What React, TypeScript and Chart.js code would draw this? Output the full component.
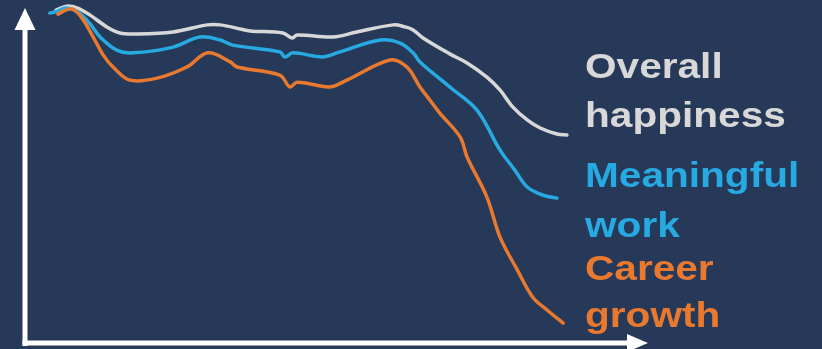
import React, { useEffect, useRef } from "react";
import { Chart, registerables } from "chart.js";

Chart.register(...registerables);

// Time (0-100) and index values (0-100) per series
const overallT = [5.0, 6.9, 8.5, 10.5, 13.2, 15.3, 17.7, 23.9, 29.4, 31.5, 34.7, 36.3, 41.6, 43.1, 43.9, 49.7, 53.5, 59.4, 61.3, 62.6, 64.2, 68.5, 71.3, 74.5, 76.6, 78.7, 81.0, 83.1, 85.8, 87.4];
const overallV = [98.8, 100, 99.4, 97.3, 93.8, 92.0, 91.7, 92.3, 94.4, 94.4, 93.2, 92.6, 92.0, 90.5, 91.4, 90.8, 92.3, 94.4, 93.8, 92.9, 90.5, 85.8, 83.1, 78.9, 75.1, 70.0, 66.2, 63.8, 62.0, 61.7];

const meaningfulT = [4.0, 5.3, 6.6, 8.5, 10.5, 12.1, 14.8, 17.4, 23.9, 28.2, 31.5, 33.5, 41.1, 41.9, 43.2, 48.1, 50.8, 57.3, 60.5, 62.6, 63.7, 68.5, 72.9, 76.6, 79.0, 81.0, 83.5, 85.8];
const meaningfulV = [97.9, 98.5, 99.4, 98.2, 94.7, 90.8, 86.9, 86.1, 87.8, 90.8, 89.9, 88.4, 86.4, 84.9, 86.1, 84.9, 86.4, 89.9, 89.0, 86.1, 83.4, 76.0, 69.1, 57.3, 51.3, 46.3, 43.9, 43.0];

const careerT = [5.3, 6.6, 7.7, 9.2, 11.0, 12.6, 14.2, 16.9, 21.3, 26.1, 29.5, 33.1, 34.2, 41.1, 42.7, 43.9, 49.2, 51.9, 58.9, 61.6, 63.7, 65.3, 66.9, 70.2, 71.3, 74.5, 76.6, 79.4, 81.9, 84.2, 86.8];
const careerV = [97.6, 98.8, 99.1, 96.4, 90.8, 85.5, 81.9, 78.0, 78.6, 81.9, 86.1, 83.4, 81.9, 79.5, 76.0, 77.4, 76.0, 78.0, 84.0, 81.9, 76.0, 72.1, 68.2, 61.1, 55.2, 43.3, 31.5, 21.7, 13.6, 9.8, 5.9];

const seriesNames = ["Overall happiness", "Meaningful work", "Career growth"];
const labelLines = [["Overall", "happiness"], ["Meaningful", "work"], ["Career", "growth"]];
const labelBaselines = [78, 127, 187, 237, 280, 327];

const BG = "#273958";
const GRAY = "#d8d8d8";
const BLUE = "#27a9e1";
const ORANGE = "#e8792f";

const toPoints = (t: number[], v: number[]) => t.map((x, i) => ({ x, y: v[i] }));

const decorPlugin = {
  id: "decor",
  beforeDraw(chart: any) {
    const ctx = chart.ctx;
    ctx.save();
    ctx.fillStyle = BG;
    ctx.fillRect(0, 0, chart.width, chart.height);
    ctx.restore();
  },
  afterDraw(chart: any) {
    const ctx = chart.ctx;
    const { left, bottom } = chart.chartArea;
    ctx.save();
    ctx.fillStyle = "#ffffff";
    // y axis shaft
    ctx.fillRect(left - 2.5, 28, 5, bottom - 28 + 3);
    // y arrow head
    ctx.beginPath();
    ctx.moveTo(left, 8);
    ctx.lineTo(left + 10.5, 30);
    ctx.lineTo(left - 10.5, 30);
    ctx.closePath();
    ctx.fill();
    // x axis shaft
    ctx.fillRect(left - 2.5, bottom - 2.5, 605, 5);
    // x arrow head
    ctx.beginPath();
    ctx.moveTo(648, bottom);
    ctx.lineTo(627, bottom - 9);
    ctx.lineTo(627, bottom + 9);
    ctx.closePath();
    ctx.fill();

    // series labels
    const colors = [GRAY, BLUE, ORANGE];
    ctx.font = "bold 35px 'Liberation Sans', Arial, sans-serif";
    ctx.textBaseline = "alphabetic";
    ctx.textAlign = "left";
    let k = 0;
    labelLines.forEach((lines, si) => {
      ctx.fillStyle = colors[si];
      lines.forEach((line) => {
        ctx.save();
        ctx.translate(585, labelBaselines[k]);
        ctx.scale(1.16, 1);
        ctx.fillText(line, 0, 0);
        ctx.restore();
        k++;
      });
    });
    ctx.restore();
  },
};

export default function App() {
  const ref = useRef<HTMLCanvasElement>(null);
  useEffect(() => {
    document.body.style.margin = "0";
    document.body.style.background = BG;
    const chart = new Chart(ref.current!, {
      type: "line",
      data: {
        datasets: [
          { label: seriesNames[2], data: toPoints(careerT, careerV), borderColor: ORANGE },
          { label: seriesNames[1], data: toPoints(meaningfulT, meaningfulV), borderColor: BLUE },
          { label: seriesNames[0], data: toPoints(overallT, overallV), borderColor: GRAY },
        ].map((d) => ({ ...d, borderWidth: 3.5, pointRadius: 0, tension: 0.35, fill: false, clip: false as any, borderCapStyle: "round" as const, borderJoinStyle: "round" as const })),
      },
      options: {
        animation: false,
        responsive: false,
        layout: { padding: { left: 25, right: 177, top: 6, bottom: 6 } },
        plugins: { legend: { display: false }, tooltip: { enabled: false } },
        scales: {
          x: { type: "linear", min: 0, max: 100, display: false },
          y: { type: "linear", min: 0, max: 100, display: false },
        },
      },
      plugins: [decorPlugin],
    });
    return () => chart.destroy();
  }, []);
  return (
    <div style={{ width: 822, height: 349, background: BG }}>
      <canvas ref={ref} width={822} height={349} style={{ display: "block" }} />
    </div>
  );
}
